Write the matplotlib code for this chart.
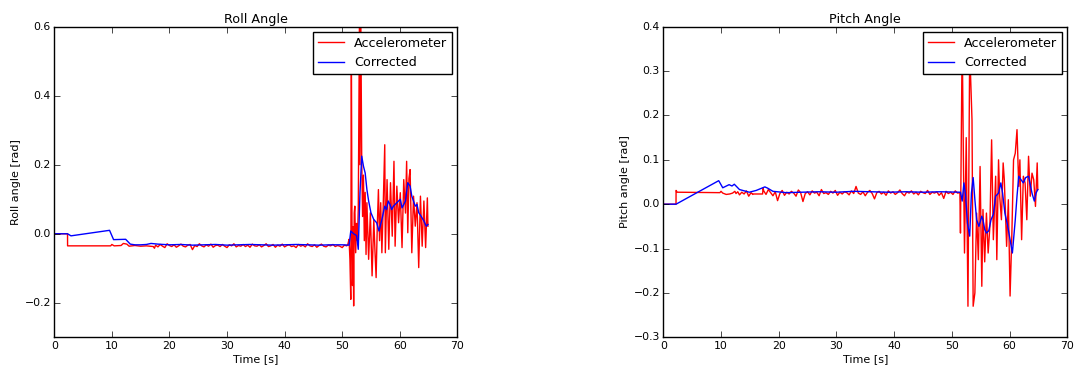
import numpy as np
import matplotlib.pyplot as plt

plt.style.use('classic')
plt.rcParams['figure.facecolor'] = 'white'
plt.rcParams['savefig.facecolor'] = 'white'
plt.rcParams['font.family'] = ['DejaVu Sans']
plt.rcParams['xtick.major.pad'] = 3
plt.rcParams['ytick.major.pad'] = 2.5

# ---------------- Roll angle ----------------
# accelerometer: start segment (time, value)
roll_acc_t0 = [0.0, 2.3, 2.31, 9.8, 10.0, 10.4, 11.6, 12.0, 12.6, 13.0, 14.0, 15.0, 16.0, 17.2, 17.4]
roll_acc_v0 = [0.0, 0.0, -0.035, -0.035, -0.031, -0.035, -0.034, -0.028, -0.030, -0.036,
               -0.034, -0.036, -0.035, -0.037, -0.042]
# accelerometer: steady noisy part 17.6 s .. 50.8 s (mrad)
roll_acc_mid = [-33, -38, -31, -36, -40, -29, -34, -37, -32, -39, -35, -30, -36, -38, -33, -31,
                -46, -34, -37, -29, -35, -38, -32, -36, -30, -39, -34, -33, -37, -31, -36, -40,
                -32, -35, -29, -38, -34, -36, -31, -37, -33, -39, -30, -35, -36, -32, -38, -34,
                -29, -37, -35, -31, -39, -33, -36, -30, -38, -34, -32, -37, -35, -40, -31, -36,
                -33, -38, -29, -35, -37, -32, -39, -34, -30, -36, -38, -33, -35, -31, -37, -34,
                -36, -40, -33, -35]
# accelerometer: disturbed part
roll_acc_t1 = [51.0, 51.2, 51.35, 51.5, 51.6, 51.7, 51.8, 51.9, 52.0, 52.1, 52.2, 52.35, 52.5,
               52.65, 52.8, 53.0, 53.1, 53.25, 53.4, 53.55, 53.7, 53.85, 54.0, 54.15, 54.3,
               54.6, 54.9, 55.2, 55.5, 55.7, 55.9, 56.1, 56.3, 56.5, 56.7, 56.9, 57.1, 57.4,
               57.5, 57.8, 58.1, 58.4, 58.7, 59.0, 59.2, 59.5, 59.8, 60.1, 60.4, 60.7, 61.0,
               61.2, 61.4, 61.6, 61.8, 62.1, 62.4, 62.7, 63.0, 63.3, 63.6, 63.9, 64.2, 64.5,
               64.8, 64.9]
roll_acc_v1 = [-0.030, -0.016, -0.074, -0.19, 0.55, 0.051, -0.15, 0.02, -0.209, 0.06, 0.08,
               -0.055, 0.03, -0.02, 0.07, 0.60, 0.2, 0.60, 0.215, 0.05, 0.17, -0.02, 0.12,
               -0.06, 0.09, -0.074, 0.061, -0.122, 0.041, -0.05, -0.127, 0.02, 0.128, -0.02,
               0.09, -0.055, 0.06, 0.258, -0.055, 0.157, -0.045, 0.148, -0.007, 0.21, -0.036,
               0.138, 0.032, 0.119, -0.04, 0.157, 0.06, 0.21, 0.003, 0.16, 0.186, -0.055,
               0.109, 0.022, 0.09, -0.098, 0.109, -0.036, 0.095, -0.04, 0.104, 0.022]

roll_cor_t = [0.0, 2.3, 2.9, 9.6, 10.3, 12.4, 13.2, 14.0, 15.0, 16.0, 16.8, 18.0, 19.0, 20.0,
              22.0, 24.0, 26.0, 28.0, 30.0, 32.0, 34.0, 36.0, 38.0, 40.0, 42.0, 44.0, 46.0,
              48.0, 50.0, 51.2, 51.5, 52.0, 52.5, 52.8, 53.1, 53.4, 53.7, 54.0, 54.3, 54.6,
              55.0, 55.5, 56.0, 56.4, 56.9, 57.4, 57.7, 58.0, 58.3, 58.6, 58.9, 59.5, 60.1,
              60.4, 61.0, 61.4, 61.8, 62.1, 62.7, 63.0, 63.3, 63.7, 64.2, 64.6, 64.9]
roll_cor_v = [0.0, 0.0, -0.006, 0.010, -0.017, -0.016, -0.030, -0.032, -0.032, -0.031, -0.028,
              -0.030, -0.031, -0.032, -0.031, -0.033, -0.032, -0.031, -0.033, -0.032, -0.031,
              -0.032, -0.033, -0.032, -0.031, -0.032, -0.033, -0.032, -0.032, -0.033, 0.008,
              0.0, -0.005, -0.045, 0.12, 0.225, 0.196, 0.176, 0.128, 0.095, 0.061, 0.041,
              0.032, 0.008, 0.041, 0.08, 0.07, 0.095, 0.085, 0.07, 0.08, 0.09, 0.1, 0.075,
              0.095, 0.148, 0.138, 0.109, 0.08, 0.085, 0.061, 0.051, 0.037, 0.022, 0.027]

# ---------------- Pitch angle ----------------
pitch_acc_t0 = [0.0, 2.2, 2.21, 2.4, 9.8, 10.0, 10.3, 10.9, 11.5, 12.0, 12.4, 12.6, 12.9, 13.2,
                13.6, 14.0, 14.4, 14.8, 15.2, 15.5, 15.6, 17.2, 17.3]
pitch_acc_v0 = [0.0, 0.0, 0.031, 0.027, 0.026, 0.029, 0.025, 0.022, 0.023, 0.025, 0.029,
                0.024, 0.028, 0.021, 0.027, 0.023, 0.030, 0.018, 0.026, 0.022, 0.023, 0.023,
                0.036]
# steady noisy part 17.4 s .. 51.4 s (mrad)
pitch_acc_mid = [30, 22, 33, 26, 19, 28, 8, 24, 31, 20, 27, 23, 29, 25, 18, 32, 26, 6, 24, 28,
                 21, 30, 25, 27, 19, 33, 24, 26, 22, 29, 25, 31, 20, 27, 23, 28, 26, 21, 30, 24,
                 40, 25, 22, 28, 19, 27, 31, 24, 12, 26, 29, 23, 27, 20, 30, 25, 28, 22, 26, 32,
                 24, 19, 28, 25, 30, 23, 27, 21, 29, 26, 24, 31, 22, 27, 25, 28, 20, 26, 13, 29,
                 24, 27, 22, 30, 25, 26]
pitch_acc_t1 = [51.5, 51.8, 52.0, 52.2, 52.5, 52.8, 53.1, 53.5, 53.7, 54.0, 54.3, 54.6, 54.9,
                55.2, 55.4, 55.7, 56.0, 56.3, 56.6, 56.9, 57.2, 57.6, 57.8, 58.1, 58.3, 58.6,
                58.9, 59.1, 59.5, 59.8, 60.1, 60.4, 60.7, 61.0, 61.3, 61.6, 61.8, 62.1, 62.4,
                62.7, 63.0, 63.3, 63.6, 63.9, 64.2, 64.5, 64.8, 64.9]
pitch_acc_v1 = [-0.065, 0.38, 0.115, -0.11, 0.15, -0.23, 0.35, 0.19, -0.23, -0.2, -0.02,
                -0.125, 0.085, -0.185, -0.012, -0.13, -0.02, -0.11, -0.05, 0.145, -0.08, 0.063,
                -0.125, 0.1, 0.018, -0.035, 0.093, 0.055, -0.095, 0.01, -0.207, -0.072, 0.1,
                0.115, 0.168, 0.04, 0.1, -0.08, 0.063, 0.048, -0.035, 0.108, 0.018, 0.07,
                0.055, -0.005, 0.093, 0.033]

pitch_cor_t = [0.0, 2.2, 9.6, 10.3, 11.4, 11.9, 12.3, 13.2, 14.9, 16.1, 17.6, 18.1, 19.0, 21.3,
               24.0, 27.0, 30.0, 33.0, 36.0, 39.0, 42.0, 45.0, 48.0, 51.5, 51.8, 52.1, 52.4,
               52.7, 53.1, 53.4, 53.7, 54.0, 54.3, 54.7, 55.2, 55.4, 55.7, 56.0, 56.4, 56.8,
               57.2, 57.6, 58.1, 58.5, 58.8, 59.2, 59.7, 60.1, 60.5, 61.0, 61.3, 61.6, 62.0,
               62.4, 62.8, 63.3, 63.9, 64.3, 64.6, 64.9]
pitch_cor_v = [0.0, 0.0, 0.053, 0.037, 0.044, 0.041, 0.045, 0.033, 0.027, 0.031, 0.039, 0.036,
               0.029, 0.026, 0.027, 0.028, 0.027, 0.029, 0.028, 0.027, 0.028, 0.027, 0.028,
               0.027, 0.007, 0.048, 0.018, -0.042, -0.072, 0.025, 0.06, 0.01, -0.035, -0.05,
               -0.027, -0.035, -0.057, -0.065, -0.06, -0.035, -0.023, 0.018, 0.025, 0.048,
               0.025, -0.02, -0.05, -0.08, -0.11, -0.035, 0.018, 0.063, 0.055, 0.048, 0.06,
               0.063, 0.025, 0.007, 0.025, 0.033]


def build(t0, v0, mid, t_mid0, t_mid1, t1, v1):
    t_mid = np.linspace(t_mid0, t_mid1, len(mid))
    t = np.concatenate([t0, t_mid, t1])
    v = np.concatenate([v0, np.array(mid) / 1000.0, v1])
    return t, v


roll_t, roll_acc = build(roll_acc_t0, roll_acc_v0, roll_acc_mid, 17.6, 50.8,
                         roll_acc_t1, roll_acc_v1)
pitch_t, pitch_acc = build(pitch_acc_t0, pitch_acc_v0, pitch_acc_mid, 17.4, 51.4,
                           pitch_acc_t1, pitch_acc_v1)

fig = plt.figure(figsize=(10.77, 3.69), dpi=100)
ax1 = fig.add_axes([0.0504, 0.0859, 0.3742, 0.8417])
ax2 = fig.add_axes([0.6159, 0.0859, 0.3750, 0.8417])

panels = [
    (ax1, roll_t, roll_acc, roll_cor_t, roll_cor_v, 'Roll Angle', 'Roll angle [rad]',
     (-0.3, 0.6), np.arange(-0.2, 0.61, 0.2)),
    (ax2, pitch_t, pitch_acc, pitch_cor_t, pitch_cor_v, 'Pitch Angle', 'Pitch angle [rad]',
     (-0.3, 0.4), np.arange(-0.3, 0.41, 0.1)),
]

for ax, ta, va, tc, vc, title, ylabel, ylim, yticks in panels:
    ax.plot(ta, va, color='r', lw=1.0, label='Accelerometer')
    ax.plot(tc, vc, color='b', lw=1.0, label='Corrected')
    ax.set_xlim(0, 70)
    ax.set_ylim(*ylim)
    ax.set_xticks(np.arange(0, 71, 10))
    ax.set_yticks(yticks)
    ax.tick_params(labelsize=7.8)
    ax.set_title(title, fontsize=9.2, pad=3)
    ax.set_xlabel('Time [s]', fontsize=8, labelpad=2)
    ax.set_ylabel(ylabel, fontsize=8, labelpad=2.5)
    ax.legend(loc='upper right', fontsize=9.2, fancybox=False, numpoints=1,
              borderaxespad=0.4)

fig.savefig('out.png', dpi=100)
